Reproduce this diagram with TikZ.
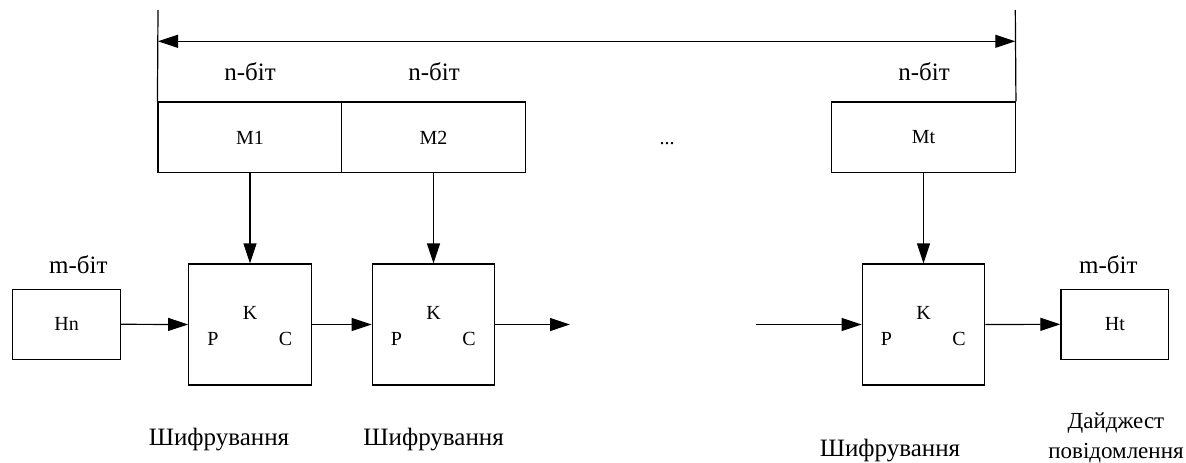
\documentclass[tikz,border=0pt]{standalone}
\usepackage{fontspec}
\setmainfont{Liberation Serif}
\usetikzlibrary{arrows.meta}
\tikzset{
  big/.style={font=\fontsize{25}{30}\selectfont},
  mid/.style={font=\fontsize{23}{30}\selectfont},
  small/.style={font=\fontsize{20}{24}\selectfont},
  mbox/.style={draw, line width=1.2pt, minimum width=183.7pt, minimum height=70.7pt, inner sep=0pt, small},
  hbox/.style={draw, line width=1.2pt, minimum width=107.7pt, minimum height=70pt, inner sep=0pt, small},
  ebox/.style={draw, line width=1.2pt, minimum width=122.6pt, minimum height=121pt, inner sep=0pt},
  lbl/.style={anchor=base, inner sep=0pt},
  arr/.style={line width=1.2pt, -{Triangle[length=20pt,width=13pt]}},
  ln/.style={line width=1.2pt}
}
\begin{document}
\begin{tikzpicture}[x=1pt, y=-1pt]
\useasboundingbox (0,0) rectangle (1186,463);
% message blocks
\node[mbox] (m1) at (249.9,137.4) {M1};
\node[mbox] (m2) at (433.5,137.4) {M2};
\node[mbox] (mt) at (923.5,137.4) {Mt};
\node[lbl, small] (dots) at (667,144) {...};
% size labels
\node[lbl, big] (n1) at (250,80) {n-біт};
\node[lbl, big] (n2) at (434,80) {n-біт};
\node[lbl, big] (nt) at (924,80) {n-біт};
% top dimension line
\coordinate (ltop) at (158,10);
\coordinate (rtop) at (1015.3,10);
\coordinate (la) at (158,41.3);
\coordinate (ra) at (1015.3,41.3);
\draw[ln] (ltop) -- (m1.north west);
\draw[ln] (rtop) -- (mt.north east);
\draw[line width=1.2pt, {Triangle[length=20pt,width=13pt]}-{Triangle[length=20pt,width=13pt]}] (la) -- (ra);
% hash registers
\node[hbox] (hn) at (66.7,324.3) {Hn};
\node[hbox] (ht) at (1114.8,324.3) {Ht};
\node[lbl, big] (mb1) at (78.3,273.3) {m-біт};
\node[lbl, big] (mb2) at (1108.3,273.3) {m-біт};
% encryption blocks
\node[ebox] (e1) at (250,324.5) {};
\node[ebox] (e2) at (433.5,324.5) {};
\node[ebox] (e3) at (923.5,324.5) {};
\foreach \e in {e1,e2,e3}{
  \node[lbl, small] (\e k) at ([yshift=5.5pt]\e.center) {K};
  \node[lbl, small] (\e p) at ([xshift=-37pt,yshift=-20.5pt]\e.center) {P};
  \node[lbl, small] (\e c) at ([xshift=35.5pt,yshift=-20.5pt]\e.center) {C};
}
% captions
\node[lbl, big] (s1) at (219,445) {Шифрування};
\node[lbl, big] (s2) at (433.6,445) {Шифрування};
\node[lbl, big] (s3) at (890,456) {Шифрування};
\node[mid, align=center, inner sep=0pt] (dg) at (1116,438) {Дайджест\\повідомлення};
% connectors
\draw[arr] (m1.south -| e1.north) -- (e1.north);
\draw[arr] (m2.south -| e2.north) -- (e2.north);
\draw[arr] (mt.south -| e3.north) -- (e3.north);
\coordinate (out2) at (570,324.5);
\coordinate (in3) at (756,324.5);
\draw[arr] (hn.east) -- (e1.west);
\draw[arr] (e1.east) -- (e2.west);
\draw[arr] (e2.east) -- (out2);
\draw[arr] (in3) -- (e3.west);
\draw[arr] (e3.east) -- (ht.west);
\end{tikzpicture}
\end{document}
